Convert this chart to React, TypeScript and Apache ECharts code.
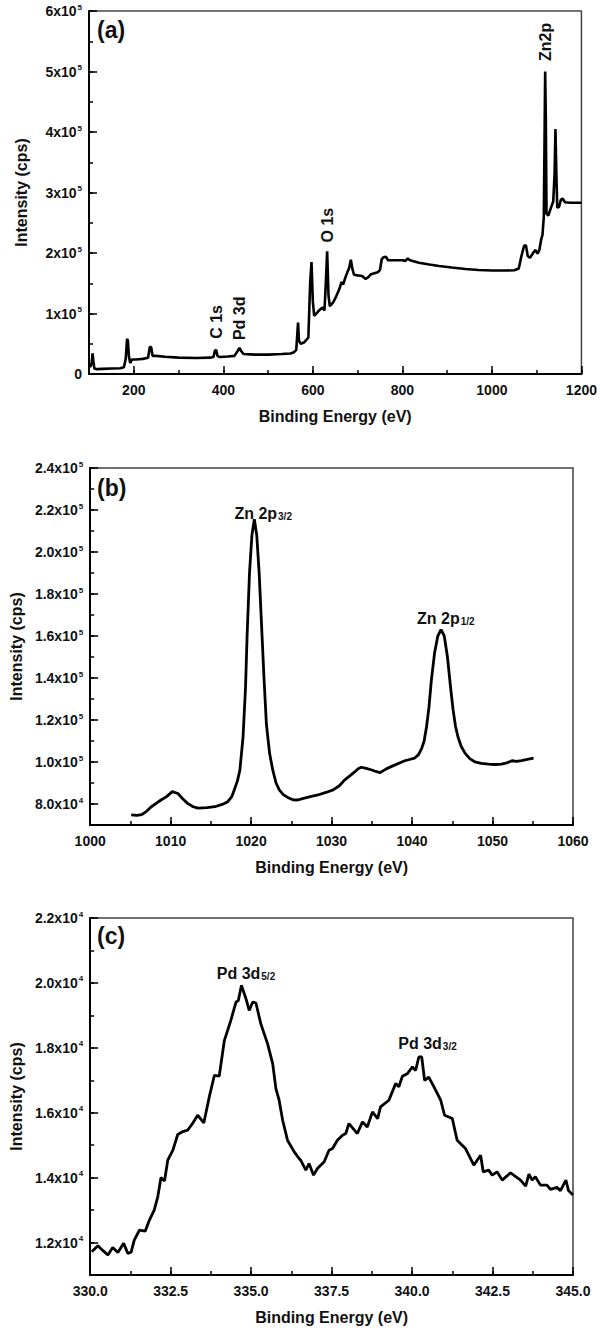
import React, { useEffect, useRef } from "react";
import * as echarts from "echarts";

const FONT = '"Liberation Sans", Arial, Helvetica, sans-serif';

// (a) survey spectrum
const surveyEnergy = [100,103,106,108,110,112,118,130,150,170,178,182,185,187,189,192,196,205,220,232,236,239,242,250,270,300,340,370,378,381,384,387,392,410,425,432,436,440,445,470,500,530,550,558,563,567,569,573,580,585,590,594,597,600,603,608,615,622,626,629,632,635,638,645,652,659,664,668,672,677,681,685,688,692,700,710,718,724,730,745,750,754,758,763,768,777,790,800,807,812,817,837,860,882,910,941,970,1000,1030,1050,1060,1066,1072,1076,1080,1085,1092,1097,1102,1106,1110,1113,1116,1118,1119,1120.5,1122,1126,1132,1137,1140,1142,1144,1146,1150,1154,1158,1163,1175,1190,1200];
const surveyIntensity = [14000,12000,18000,34000,20000,9000,8000,8500,9000,9500,11000,25000,58000,55000,30000,18000,24000,24000,25000,27000,45000,44000,30000,30000,28500,27000,26500,27000,28000,38000,40000,30000,28000,29000,30000,38000,43000,38000,33000,32000,32000,33000,34000,36000,40000,85000,55000,50000,52000,56000,60000,150000,185000,120000,96000,100000,106000,110000,105000,150000,203000,130000,112000,118000,128000,140000,152000,148000,158000,168000,175000,189000,175000,164000,163000,162000,157000,160000,165000,168000,172000,190000,193000,194000,188000,188000,188000,188000,187000,191000,188000,184000,181000,178500,176000,173500,172000,171000,171000,171500,174500,195000,212000,213000,195000,192000,200000,205000,199000,205000,222000,230000,260000,420000,500000,420000,265000,262000,275000,285000,330000,405000,330000,275000,276000,288000,290000,284000,283000,283000,283000];

// (b) Zn 2p
const znEnergy = [1005.1,1005.8,1006.4,1007.0,1007.6,1008.2,1008.8,1009.5,1010.2,1010.9,1011.5,1012.1,1012.8,1013.4,1014.5,1015.5,1016.4,1017.1,1017.6,1017.9,1018.3,1018.6,1019.0,1019.3,1019.5,1019.8,1020.1,1020.4,1020.7,1021.0,1021.3,1021.6,1021.9,1022.3,1022.7,1023.1,1023.5,1024.0,1024.6,1025.2,1025.8,1026.5,1027.5,1028.3,1029.3,1030.2,1031.0,1031.6,1032.3,1032.9,1033.3,1033.7,1034.3,1035.0,1035.5,1036.0,1036.7,1037.4,1038.3,1039.1,1039.7,1040.3,1040.8,1041.2,1041.5,1041.8,1042.1,1042.4,1042.8,1043.2,1043.6,1044.0,1044.4,1044.8,1045.1,1045.4,1045.7,1046.1,1046.6,1047.2,1047.8,1048.6,1049.5,1050.3,1051.1,1051.8,1052.4,1053.0,1053.6,1054.3,1055.1];
const znIntensity = [74800,74600,74900,76500,78700,80300,81900,83500,85900,85000,82500,80300,78700,78000,78300,78700,79800,81100,83500,86700,91000,96000,112000,135000,160000,190000,208000,215600,208000,190000,165000,140000,118000,104000,96000,90000,86700,84500,83000,82000,81900,82700,83600,84300,85500,86700,88800,91400,93500,95400,96800,97500,97000,96200,95500,94900,96500,97800,99300,100600,101200,101800,103500,106500,110000,116800,126000,139000,152000,160000,163000,160000,150000,135000,124800,117000,112000,107500,104100,101500,100100,99300,99000,98800,99000,99600,100600,100300,100700,101200,101800];

// (c) Pd 3d
const pdEnergy = [330.05,330.24,330.40,330.55,330.70,330.86,331.04,331.17,331.27,331.37,331.53,331.71,331.84,331.99,332.10,332.20,332.31,332.41,332.57,332.72,332.88,333.03,333.18,333.34,333.53,333.70,333.86,334.01,334.17,334.37,334.53,334.60,334.70,334.84,334.94,335.05,335.15,335.30,335.51,335.67,335.77,335.87,335.98,336.13,336.34,336.49,336.54,336.70,336.80,336.94,337.06,337.27,337.42,337.53,337.68,337.84,337.94,338.04,338.30,338.46,338.61,338.77,338.93,339.02,339.28,339.49,339.59,339.70,339.85,340.01,340.11,340.21,340.30,340.39,340.52,340.68,340.89,341.01,341.25,341.40,341.66,341.92,342.13,342.21,342.38,342.49,342.64,342.80,343.06,343.37,343.53,343.63,343.73,343.83,343.99,344.19,344.30,344.50,344.61,344.78,344.86,345.00];
const pdIntensity = [11717,11900,11750,11615,11850,11690,11975,11667,11700,12077,12385,12350,12692,13000,13409,14006,13900,14538,14846,15329,15420,15462,15667,15923,15686,16487,17154,17130,18231,18846,19410,19450,19923,19513,19154,19410,19380,18744,18128,17513,16744,16385,15769,15154,14795,14590,14538,14231,14436,14077,14280,14487,14846,14900,15154,15308,15360,15667,15359,15718,15560,16026,15820,16180,16385,16897,16800,17123,17200,17410,17300,17718,17718,17000,17100,16795,16385,15923,15820,15154,14897,14385,14692,14179,14230,14077,14180,13923,14149,13923,13738,14108,13923,14026,13769,13769,13636,13700,13600,13923,13600,13462];

// major tick positions
const aXMajor = [200, 400, 600, 800, 1000, 1200];
const aYMajor = [0, 100000, 200000, 300000, 400000, 500000, 600000];
const bXMajor = [1000, 1010, 1020, 1030, 1040, 1050, 1060];
const bYMajor = [80000, 100000, 120000, 140000, 160000, 180000, 200000, 220000, 240000];
const cXMajor = [330, 332.5, 335, 337.5, 340, 342.5, 345];
const cYMajor = [12000, 14000, 16000, 18000, 20000, 22000];

// annotations
const aPeakLabels = [
  { name: "C 1s", coord: [385, 86000] },
  { name: "Pd 3d", coord: [436, 92000] },
  { name: "O 1s", coord: [632, 246000] },
  { name: "Zn2p", coord: [1120, 549000] },
];
const bPeakLabels = [
  { text: "{t|Zn 2p}{s|3/2}", coord: [1021.5, 220000] },
  { text: "{t|Zn 2p}{s|1/2}", coord: [1044.2, 170000] },
];
const cPeakLabels = [
  { text: "{t|Pd 3d}{s|5/2}", coord: [334.84, 20385] },
  { text: "{t|Pd 3d}{s|3/2}", coord: [340.48, 18231] },
];

const zip = (xs: number[], ys: number[]) => xs.map((x, i) => [x, ys[i]]);

const near = (v: number, step: number) => Math.abs(v / step - Math.round(v / step)) < 1e-6;

const supRich = {
  m: { fontSize: 14, fontWeight: "bold", fontFamily: FONT, color: "#111", lineHeight: 16 },
  e: { fontSize: 8, fontWeight: "bold", fontFamily: FONT, color: "#111", verticalAlign: "top", lineHeight: 16, padding: [0, 0, 0, 1] },
};
const subRich = {
  t: { fontSize: 16, fontWeight: "bold", fontFamily: FONT, color: "#111", lineHeight: 22, verticalAlign: "bottom" },
  s: { fontSize: 10, fontWeight: "bold", fontFamily: FONT, color: "#111", lineHeight: 22, verticalAlign: "bottom", padding: [7, 0, 0, 1] },
};

export default function App() {
  const ref = useRef<HTMLDivElement>(null);
  useEffect(() => {
    if (!ref.current) return;
    const chart = echarts.init(ref.current, undefined, { renderer: "svg" });

    const grids = [
      { left: 89, top: 11, width: 494, height: 363 },
      { left: 89, top: 468, width: 484, height: 357 },
      { left: 89, top: 918, width: 484, height: 357 },
    ].map((g) => ({ ...g, show: true, borderColor: "#444", borderWidth: 1.5, backgroundColor: "transparent" }));

    const labelStyle = { fontSize: 14, fontWeight: "bold", fontFamily: FONT, color: "#111" };
    const nameStyleX = { fontSize: 16, fontWeight: "bold", fontFamily: FONT, color: "#111" };

    const mainX = (gi: number, min: number, max: number, step: number, fmt: (v: number) => string) => ({
      type: "value", gridIndex: gi, min, max, interval: step, position: "bottom",
      axisLine: { show: true, onZero: false, lineStyle: { color: "#000", width: 2 } },
      axisTick: { show: true, inside: true, length: 4, lineStyle: { color: "#000", width: 1.5 } },
      axisLabel: { ...labelStyle, margin: 9, formatter: fmt, showMinLabel: true, showMaxLabel: true },
      splitLine: { show: false },
      name: "Binding Energy (eV)", nameLocation: "middle", nameGap: 34, nameTextStyle: nameStyleX,
    });
    const mainY = (gi: number, min: number, max: number, step: number, fmt: (v: number) => string) => ({
      type: "value", gridIndex: gi, min, max, interval: step, position: "left",
      axisLine: { show: true, onZero: false, lineStyle: { color: "#000", width: 2 } },
      axisTick: { show: true, inside: true, length: 4, lineStyle: { color: "#000", width: 1.5 } },
      axisLabel: { margin: 7, formatter: fmt, rich: supRich, ...labelStyle },
      splitLine: { show: false },
      name: "Intensity (cps)", nameLocation: "middle", nameGap: 60, nameTextStyle: nameStyleX,
    });
    const overX = (gi: number, min: number, max: number, majors: number[]) => ({
      type: "value", gridIndex: gi, min, max, position: "bottom",
      axisLine: { show: false }, axisLabel: { show: false }, splitLine: { show: false },
      axisTick: { show: true, inside: true, length: 8, customValues: majors, lineStyle: { color: "#000", width: 1.5 } },
    });
    const overY = (gi: number, min: number, max: number, majors: number[]) => ({
      type: "value", gridIndex: gi, min, max, position: "left",
      axisLine: { show: false }, axisLabel: { show: false }, splitLine: { show: false },
      axisTick: { show: true, inside: true, length: 8, customValues: majors, lineStyle: { color: "#000", width: 1.5 } },
    });

    const sci = (mant: string, exp: number) => `{m|${mant}x10}{e|${exp}}`;

    const option: any = {
      animation: false,
      backgroundColor: "#fff",
      grid: grids,
      xAxis: [
        mainX(0, 100, 1200, 100, (v) => (near(v, 200) ? String(v) : "")),
        mainX(1, 1000, 1060, 5, (v) => (near(v, 10) ? String(v) : "")),
        mainX(2, 330, 345, 1.25, (v) => (near(v, 2.5) ? v.toFixed(1) : "")),
        overX(0, 100, 1200, aXMajor),
        overX(1, 1000, 1060, bXMajor),
        overX(2, 330, 345, cXMajor),
      ],
      yAxis: [
        mainY(0, 0, 600000, 50000, (v) => (v === 0 ? "{m|0}" : near(v, 100000) ? sci(String(Math.round(v / 1e5)), 5) : "")),
        mainY(1, 70000, 240000, 10000, (v) =>
          near(v, 20000) ? (v < 100000 ? sci((v / 1e4).toFixed(1), 4) : sci((v / 1e5).toFixed(1), 5)) : ""),
        mainY(2, 11000, 22000, 1000, (v) => (near(v, 2000) ? sci((v / 1e4).toFixed(1), 4) : "")),
        overY(0, 0, 600000, aYMajor),
        overY(1, 70000, 240000, bYMajor),
        overY(2, 11000, 22000, cYMajor),
      ],
      series: [
        {
          type: "line", xAxisIndex: 0, yAxisIndex: 0, data: zip(surveyEnergy, surveyIntensity),
          showSymbol: false, lineStyle: { color: "#000", width: 2.6 }, silent: true,
          markPoint: {
            symbol: "circle", symbolSize: 1, itemStyle: { color: "rgba(0,0,0,0)" }, silent: true,
            label: { show: true, position: "inside", rotate: 90, formatter: "{b}", fontSize: 16, fontWeight: "bold", fontFamily: FONT, color: "#111" },
            data: aPeakLabels.map((p) => ({ name: p.name, coord: p.coord })),
          },
        },
        {
          type: "line", xAxisIndex: 1, yAxisIndex: 1, data: zip(znEnergy, znIntensity),
          showSymbol: false, lineStyle: { color: "#000", width: 2.8 }, silent: true,
          markPoint: {
            symbol: "circle", symbolSize: 1, itemStyle: { color: "rgba(0,0,0,0)" }, silent: true,
            label: { show: true, position: "inside", rich: subRich },
            data: bPeakLabels.map((p) => ({ coord: p.coord, label: { formatter: p.text } })),
          },
        },
        {
          type: "line", xAxisIndex: 2, yAxisIndex: 2, data: zip(pdEnergy, pdIntensity),
          showSymbol: false, lineStyle: { color: "#000", width: 2.8 }, silent: true,
          markPoint: {
            symbol: "circle", symbolSize: 1, itemStyle: { color: "rgba(0,0,0,0)" }, silent: true,
            label: { show: true, position: "inside", rich: subRich },
            data: cPeakLabels.map((p) => ({ coord: p.coord, label: { formatter: p.text } })),
          },
        },
      ],
      graphic: [
        { type: "text", x: 97, y: 30, style: { text: "(a)", font: `bold 23px ${FONT}`, fill: "#111", verticalAlign: "middle" } },
        { type: "text", x: 97, y: 488, style: { text: "(b)", font: `bold 23px ${FONT}`, fill: "#111", verticalAlign: "middle" } },
        { type: "text", x: 97, y: 936, style: { text: "(c)", font: `bold 23px ${FONT}`, fill: "#111", verticalAlign: "middle" } },
      ],
    };
    chart.setOption(option);
    return () => chart.dispose();
  }, []);
  return <div ref={ref} style={{ position: "absolute", left: 0, top: 0, width: 600, height: 1334 }} />;
}
